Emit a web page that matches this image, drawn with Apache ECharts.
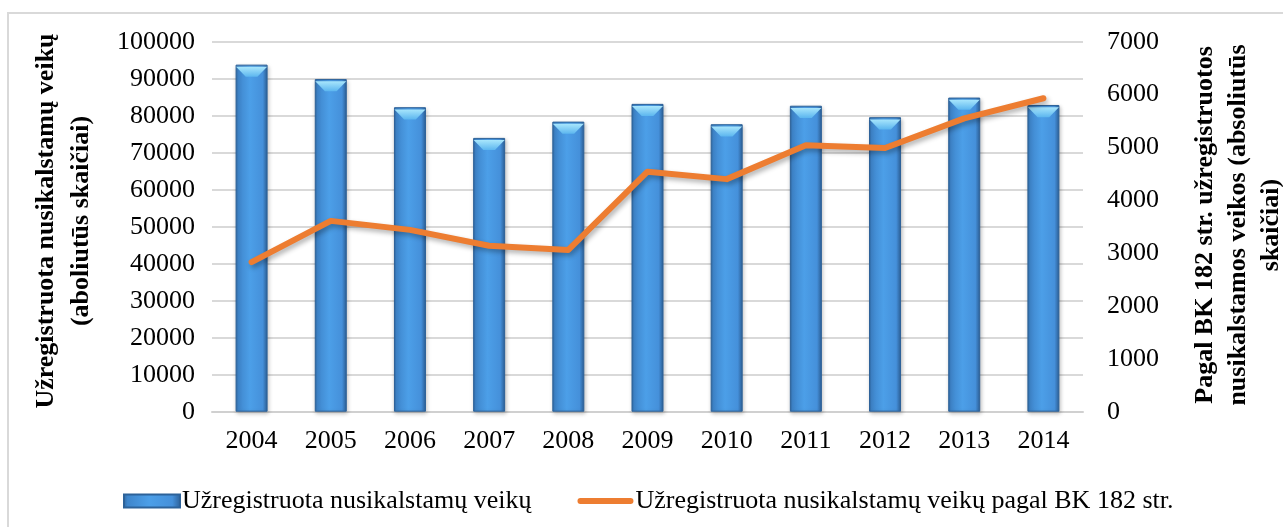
<!DOCTYPE html>
<html>
<head>
<meta charset="utf-8">
<script src="https://cdn.jsdelivr.net/npm/echarts@6/dist/echarts.min.js"></script>
<style>
html,body{margin:0;padding:0;background:#fff;}
#frame{position:absolute;left:7px;top:12px;width:1290px;height:530px;border-left:2px solid #d9d9d9;border-top:2px solid #d9d9d9;}
#chart{position:absolute;left:0;top:0;width:1283px;height:527px;}
</style>
</head>
<body>
<div id="frame"></div>
<div id="chart"></div>
<script>
const years = ['2004','2005','2006','2007','2008','2009','2010','2011','2012','2013','2014'];
const crimesTotal = [93800, 89900, 82300, 74000, 78400, 83200, 77700, 82700, 79600, 84900, 82900];
const crimesBK182 = [2830, 3610, 3440, 3140, 3060, 4540, 4400, 5040, 4990, 5550, 5930];
const leftTicks = { min: 0, max: 100000, interval: 10000 };
const rightTicks = { min: 0, max: 7000, interval: 1000 };
const seriesNames = ['Užregistruota nusikalstamų veikų', 'Užregistruota nusikalstamų veikų pagal BK 182 str.'];
const leftTitle = 'Užregistruota nusikalstamų veikų\n(aboliutūs skaičiai)';
const rightTitle = 'Pagal BK 182 str. užregistruotos\nnusikalstamos veikos (absoliutūs\nskaičiai)';

const FONT = '"Liberation Serif","Times New Roman",serif';
const chart = echarts.init(document.getElementById('chart'), null, {renderer:'canvas'});

const barFill = new echarts.graphic.LinearGradient(0,0,1,0,[
  {offset:0, color:'#2f679f'},
  {offset:0.08, color:'#3f86cc'},
  {offset:0.45, color:'#4c9fe8'},
  {offset:0.85, color:'#4590da'},
  {offset:1, color:'#2c5f96'}
]);
const bevelFill = new echarts.graphic.LinearGradient(0,0,0,1,[
  {offset:0, color:'#a8e6fc'},
  {offset:1, color:'#5cb6ef'}
]);

chart.setOption({
  animation:false,
  textStyle:{fontFamily:FONT},
  grid:{left:212, right:200, top:41.7, bottom:115.3, containLabel:false},
  legend:{
    left:118, top:483,
    itemGap:46, itemWidth:56, itemHeight:13,
    textStyle:{fontFamily:FONT, fontSize:26, color:'#000', padding:[0,0,0,-3]},
    data:[
      {name:seriesNames[0], icon:'rect'},
      {name:seriesNames[1], icon:'path://M0,0 L1,0 L1,0.01 Z M0,13 L1,13 L1,12.99 Z M3,3.5 L55,3.5 A3,3 0 0 1 55,9.5 L3,9.5 A3,3 0 0 1 3,3.5 Z', itemStyle:{color:'#ed7d31'}}
    ]
  },
  xAxis:{
    type:'category', data:years,
    axisLine:{show:true, lineStyle:{color:'#d0d0d0', width:2}},
    axisTick:{show:false},
    axisLabel:{fontFamily:FONT, fontSize:26, color:'#000', margin:16}
  },
  yAxis:[
    {type:'value', min:leftTicks.min, max:leftTicks.max, interval:leftTicks.interval,
     axisLine:{show:false}, axisTick:{show:false},
     splitLine:{lineStyle:{color:'#d9d9d9', width:2}},
     axisLabel:{fontFamily:FONT, fontSize:26, color:'#000', margin:17, formatter:function(v){return String(v);}}},
    {type:'value', min:rightTicks.min, max:rightTicks.max, interval:rightTicks.interval, position:'right',
     axisLine:{show:false}, axisTick:{show:false}, splitLine:{show:false},
     axisLabel:{fontFamily:FONT, fontSize:26, color:'#000', margin:24, formatter:function(v){return String(v);}}}
  ],
  graphic:[
    {type:'text', x:64, y:221, rotation:Math.PI/2,
     style:{text:leftTitle, font:'bold 26px '+FONT, fill:'#000', align:'center', verticalAlign:'middle', lineHeight:35}},
    {type:'text', x:1238, y:225, rotation:Math.PI/2,
     style:{text:rightTitle, font:'bold 26px '+FONT, fill:'#000', align:'center', verticalAlign:'middle', lineHeight:33}}
  ],
  series:[
    {name:seriesNames[0], type:'bar', data:crimesTotal, barWidth:32, barGap:'-100%',
     itemStyle:{color:barFill, borderColor:'#2d6299', borderWidth:1, shadowColor:'rgba(0,0,0,0.25)', shadowBlur:4, shadowOffsetX:1, shadowOffsetY:2}},
    {name:'bevel', type:'pictorialBar', data:crimesTotal, barWidth:32, barGap:'-100%',
     symbol:'path://M0,0 L32,0 L22,10 L10,10 Z', symbolSize:[31,10], symbolPosition:'end', symbolOffset:[0,'22%'],
     itemStyle:{color:bevelFill}, z:3, silent:true, legendHoverLink:false},
    {name:seriesNames[1], type:'line', yAxisIndex:1, data:crimesBK182, symbol:'none', z:5,
     color:'#ed7d31',
     lineStyle:{color:'#ed7d31', width:6, cap:'round', join:'round', shadowColor:'rgba(0,0,0,0.3)', shadowBlur:5, shadowOffsetX:2, shadowOffsetY:3}}
  ]
});
</script>
</body>
</html>
